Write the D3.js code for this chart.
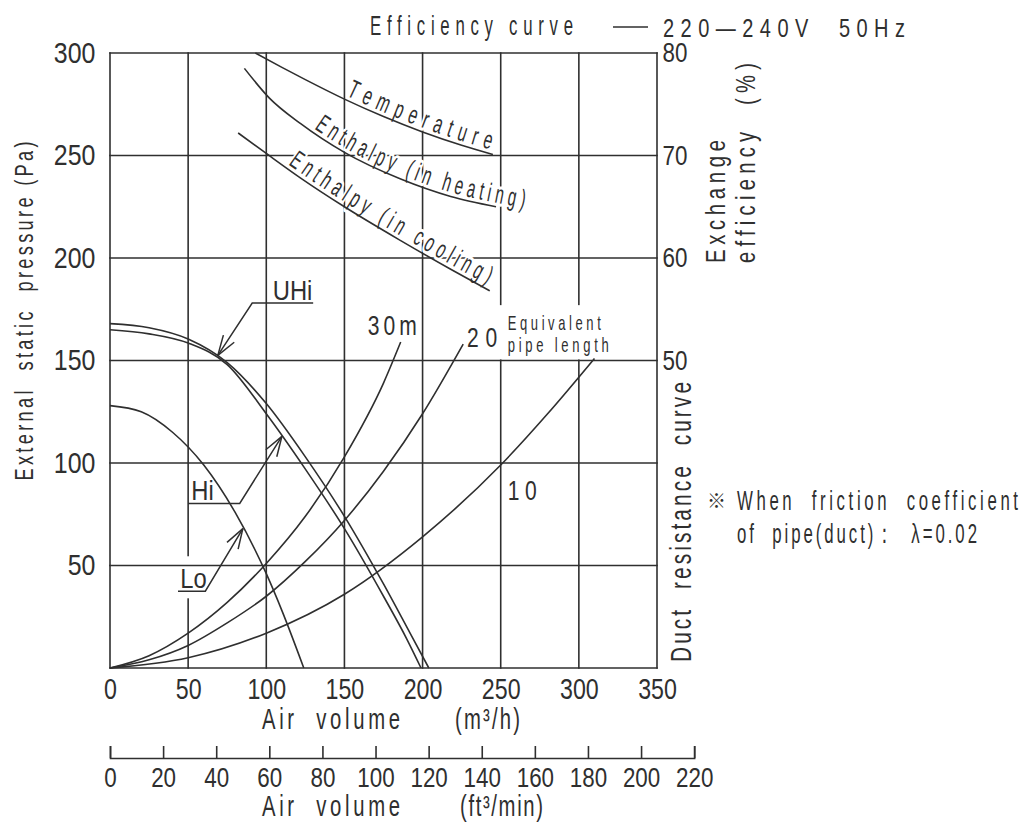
<!DOCTYPE html>
<html lang="en">
<head>
<meta charset="utf-8">
<title>Fan characteristics – air volume vs. static pressure</title>
<script src="https://cdn.jsdelivr.net/npm/d3@7/dist/d3.min.js"></script>
<style>
  html, body { margin: 0; padding: 0; background: #fff; }
  svg { display: block; }
</style>
</head>
<body>
<svg id="chart" width="1024" height="825"></svg>
<script>
// ---------- tick values ----------
const flowTicks = [0, 50, 100, 150, 200, 250, 300, 350];          // m³/h
const pressureTicks = [50, 100, 150, 200, 250, 300];              // Pa
const efficiencyTicks = [50, 60, 70, 80];                         // %
const cfmTicks = [0, 20, 40, 60, 80, 100, 120, 140, 160, 180, 200, 220]; // ft³/min

// ---------- fan curves: [air volume m³/h, external static pressure Pa] ----------
const fanUHi = [[0, 168], [25, 166], [50, 160.5], [75, 149], [100, 129], [125, 103], [150, 74], [175, 41], [192, 17], [204, 0]];
const fanHi  = [[0, 165], [25, 163], [50, 158.5], [75, 148], [100, 124], [125, 97], [150, 68], [175, 35], [190, 14], [199, 0]];
const fanLo  = [[0, 128], [20, 125], [40, 115], [60, 99], [80, 76], [100, 46], [110, 28], [124, 0]];

// ---------- duct resistance curves (equivalent pipe length) ----------
const duct30 = [[0, 0], [25, 6], [50, 17], [75, 32], [100, 51], [125, 74], [150, 103], [175, 139], [186, 159]];
const duct20 = [[0, 0], [25, 4], [50, 11], [75, 22], [100, 35], [125, 52], [150, 72], [175, 96], [200, 124], [226, 158]];
const duct10 = [[0, 0], [50, 5], [100, 17], [150, 36], [200, 64], [250, 99], [280, 124], [310, 151]];

// ---------- exchange efficiency: [air volume m³/h, efficiency %] ----------
const effTemperature = [[93, 80], [110, 78.6], [125, 77.4], [150, 75.5], [175, 73.8], [200, 72.3], [225, 71], [245, 70.1]];
const effHeating     = [[86, 78.5], [102, 75.6], [122, 73.1], [150, 70.3], [186, 67.7], [218, 66], [247, 65]];
const effCooling     = [[82, 72.2], [100, 70.2], [122, 67.8], [150, 65], [186, 61.7], [218, 58.9], [243, 56.8]];

// ---------- drawing ----------
const INK = '#2f2f2f';
const SANS = "'Liberation Sans', Arimo, 'Noto Sans', sans-serif";
const CJK = "'Noto Sans CJK JP', 'Noto Sans CJK SC', sans-serif";

const svg = d3.select('#chart');
svg.append('rect').attr('width', 1024).attr('height', 825).attr('fill', '#fff');
const defs = svg.append('defs');

const x = d3.scaleLinear().domain([0, 350]).range([110, 657]);
const y = d3.scaleLinear().domain([0, 300]).range([668, 53]);
const yEff = d3.scaleLinear().domain([20, 80]).range([668, 53]);
const M3H_PER_CFM = 1.69901;
const xCfm = d3.scaleLinear().domain([0, 220]).range([x(0), x(220 * M3H_PER_CFM)]);

// layers in paint order
const gV = svg.append('g');
const gGap = svg.append('g');
const gH = svg.append('g');
const gLabels = svg.append('g');
const gCurves = svg.append('g');
const gNotes = svg.append('g');

// text helper: optional rotation, horizontal condensing and fitted length
function put(parent, str, o) {
  const sx = o.sx || 1;
  const t = parent.append('text')
    .attr('font-family', o.family || SANS)
    .attr('font-size', o.size)
    .attr('fill', INK)
    .attr('text-anchor', o.anchor || 'start')
    .attr('xml:space', 'preserve')
    .style('white-space', 'pre')
    .attr('transform', `translate(${o.x},${o.y}) rotate(${o.rot || 0}) scale(${sx},1)`)
    .text(str);
  if (o.width) t.attr('textLength', o.width / sx).attr('lengthAdjust', 'spacing');
  return t;
}

// grid
gV.selectAll('line').data(flowTicks).join('line')
  .attr('x1', d => x(d)).attr('x2', d => x(d))
  .attr('y1', y(0)).attr('y2', y(300))
  .attr('stroke', INK).attr('stroke-width', 1.6).attr('stroke-linecap', 'square');
// breaks in the vertical rules behind the annotations
gGap.append('rect').attr('x', x(250) - 3).attr('y', y(177)).attr('width', x(320) - x(250)).attr('height', y(150.5) - y(177)).attr('fill', '#fff');
gGap.append('rect').attr('x', x(50) - 4).attr('y', y(54.5)).attr('width', 8).attr('height', y(34) - y(54.5)).attr('fill', '#fff');
gH.selectAll('line').data([0, ...pressureTicks]).join('line')
  .attr('x1', x(0)).attr('x2', x(350))
  .attr('y1', d => y(d)).attr('y2', d => y(d))
  .attr('stroke', INK).attr('stroke-width', 1.6).attr('stroke-linecap', 'square');

function styleAxis(g, size, sx) {
  g.attr('font-family', SANS).attr('font-size', size).attr('color', INK);
  g.selectAll('text').attr('transform', `scale(${sx},1)`);
  g.selectAll('path, line').attr('stroke-width', 1.6);
}

// primary air-volume axis
const axB = svg.append('g').attr('transform', `translate(0,${y(0)})`)
  .call(d3.axisBottom(x).tickValues(flowTicks).tickSize(0).tickPadding(10));
axB.select('.domain').remove();
styleAxis(axB, 29, 0.8);

// secondary axis in ft³/min
const axC = svg.append('g').attr('transform', 'translate(0,758)')
  .call(d3.axisBottom(xCfm).tickValues(cfmTicks).tickSizeInner(-12).tickSizeOuter(-12).tickPadding(9));
styleAxis(axC, 28, 0.8);

// pressure axis
const axL = svg.append('g').attr('transform', `translate(${x(0)},0)`)
  .call(d3.axisLeft(y).tickValues(pressureTicks).tickSize(0).tickPadding(17));
axL.select('.domain').remove();
styleAxis(axL, 29, 0.86);

// efficiency axis
const axR = svg.append('g').attr('transform', `translate(${x(350)},0)`)
  .call(d3.axisRight(yEff).tickValues(efficiencyTicks).tickSize(0).tickPadding(7));
axR.select('.domain').remove();
styleAxis(axR, 28, 0.8);

// titles
put(svg, 'Efficiency curve', { x: 370, y: 35, size: 28, sx: 0.6, width: 203 });
svg.append('line').attr('x1', 613).attr('x2', 648).attr('y1', 27).attr('y2', 27).attr('stroke', INK).attr('stroke-width', 1.5);
put(svg, '220—240V  50Hz', { x: 663, y: 37, size: 25, sx: 0.8, width: 242 });

put(svg, 'External  static  pressure (Pa)', { x: 33, y: 311, rot: -90, size: 26, sx: 0.7, width: 339, anchor: 'middle' });
put(svg, 'Exchange', { x: 725, y: 263, rot: -90, size: 27, sx: 0.75, width: 123 });
put(svg, 'efficiency  (%)', { x: 755, y: 263, rot: -90, size: 27, sx: 0.75, width: 200 });
put(svg, 'Duct  resistance  curve', { x: 691, y: 662, rot: -90, size: 29, sx: 0.72, width: 280 });

put(svg, '※', { x: 707, y: 508, size: 19, family: CJK });
put(svg, 'When  friction  coefficient', { x: 737, y: 510, size: 28, sx: 0.6, width: 281 });
put(svg, 'of  pipe(duct)：  λ=0.02', { x: 737, y: 543, size: 28, sx: 0.6, width: 240 });

put(svg, 'Air  volume', { x: 262, y: 729, size: 29, sx: 0.7, width: 138 });
put(svg, '(m³/h)', { x: 455, y: 729, size: 29, sx: 0.7, width: 65 });
put(svg, 'Air  volume', { x: 262, y: 816, size: 29, sx: 0.7, width: 138 });
put(svg, '(ft³/min)', { x: 460, y: 816, size: 29, sx: 0.7, width: 83 });

// curves
const pLine = d3.line().x(d => x(d[0])).y(d => y(d[1])).curve(d3.curveMonotoneX);
const eLine = d3.line().x(d => x(d[0])).y(d => yEff(d[1])).curve(d3.curveMonotoneX);
const series = [
  ['uhi', fanUHi, pLine], ['hi', fanHi, pLine], ['lo', fanLo, pLine],
  ['d30', duct30, pLine], ['d20', duct20, pLine], ['d10', duct10, pLine],
  ['temp', effTemperature, eLine], ['heat', effHeating, eLine], ['cool', effCooling, eLine]
];
const paths = {};
series.forEach(([id, data, gen]) => {
  paths[id] = gCurves.append('path').attr('d', gen(data))
    .attr('fill', 'none').attr('stroke', INK).attr('stroke-width', 1.6).node();
});

// labels that follow the efficiency curves, set glyph by glyph
function lengthAtX(node, tx) {
  let lo = 0, hi = node.getTotalLength();
  for (let i = 0; i < 40; i++) {
    const m = (lo + hi) / 2;
    if (node.getPointAtLength(m).x < tx) lo = m; else hi = m;
  }
  return lo;
}
function buildGuide(id, node, lift, extend) {
  const total = node.getTotalLength(), n = 120, pts = [];
  for (let i = 0; i <= n; i++) { const p = node.getPointAtLength(total * i / n); pts.push([p.x, p.y]); }
  if (extend) {
    const a = pts[n - 1], b = pts[n], m = Math.hypot(b[0] - a[0], b[1] - a[1]);
    for (let k = 1; k <= 4; k++) pts.push([b[0] + (b[0] - a[0]) / m * extend * k / 4, b[1] + (b[1] - a[1]) / m * extend * k / 4]);
  }
  const off = pts.map((p, i) => {
    const a = pts[Math.max(0, i - 1)], b = pts[Math.min(pts.length - 1, i + 1)];
    const dx = b[0] - a[0], dy = b[1] - a[1], m = Math.hypot(dx, dy) || 1;
    return [p[0] + dy / m * lift, p[1] - dx / m * lift];
  });
  return defs.append('path').attr('id', id).attr('d', d3.line()(off)).node();
}
function curveLabel(node, str, x0, x1, size, sx) {
  const total = node.getTotalLength();
  const s = lengthAtX(node, x0), e = lengthAtX(node, x1);
  const chars = Array.from(str);
  const probe = svg.append('text').attr('font-family', SANS).attr('font-size', size)
    .attr('xml:space', 'preserve').style('white-space', 'pre');
  const w = chars.map(c => { probe.text(c); return probe.node().getComputedTextLength() * sx; });
  probe.remove();
  const gap = (e - s - d3.sum(w)) / (chars.length - 1);
  let pos = s;
  chars.forEach((c, i) => {
    const mid = pos + w[i] / 2;
    const p = node.getPointAtLength(mid);
    const p1 = node.getPointAtLength(Math.max(0, mid - 2));
    const p2 = node.getPointAtLength(Math.min(total, mid + 2));
    const ang = Math.atan2(p2.y - p1.y, p2.x - p1.x) * 180 / Math.PI;
    if (c.trim()) {
      gLabels.append('text')
        .attr('font-family', SANS).attr('font-size', size).attr('fill', INK)
        .attr('text-anchor', 'middle')
        .attr('stroke', '#fff').attr('stroke-width', 6).attr('stroke-linejoin', 'round')
        .attr('paint-order', 'stroke')
        .attr('transform', `translate(${p.x},${p.y}) rotate(${ang}) scale(${sx},1)`)
        .text(c);
    }
    pos += w[i] + gap;
  });
}
curveLabel(buildGuide('g-temp', paths.temp, 4, 0), 'Temperature', 346, 490, 26, 0.6);
curveLabel(buildGuide('g-heat', paths.heat, 4, 60), 'Enthalpy (in heating)', 314, 524, 26, 0.58);
curveLabel(buildGuide('g-cool', paths.cool, 4, 0), 'Enthalpy (in cooling)', 288, 487, 26, 0.58);

// duct length labels
put(gLabels, '30m', { x: x(165), y: y(162.5), size: 27, sx: 0.78, width: 49 });
put(gLabels, '20', { x: x(228.5), y: y(156.5), size: 27, sx: 0.78, width: 30 });
put(gLabels, '10', { x: x(254.5), y: y(82), size: 27, sx: 0.78, width: 29 });
put(gLabels, 'Equivalent', { x: x(254.5), y: y(165), size: 21, sx: 0.62, width: 93 });
put(gLabels, 'pipe length', { x: x(254.5), y: y(154.3), size: 21, sx: 0.62, width: 101 });

// fan-speed callouts with open arrowheads
function arrowhead(tip, from) {
  const a = Math.atan2(from[1] - tip[1], from[0] - tip[0]);
  [-1, 1].forEach(s => {
    const b = a + s * 18 * Math.PI / 180;
    gNotes.append('line')
      .attr('x1', tip[0]).attr('y1', tip[1])
      .attr('x2', tip[0] + 21 * Math.cos(b)).attr('y2', tip[1] + 21 * Math.sin(b))
      .attr('stroke', INK).attr('stroke-width', 1.5);
  });
}
function callout(name, pts, textX, anchor) {
  const px = pts.map(d => [x(d[0]), y(d[1])]);
  gNotes.append('path').attr('d', d3.line()(px)).attr('fill', 'none').attr('stroke', INK).attr('stroke-width', 1.5);
  arrowhead(px[px.length - 1], px[px.length - 2]);
  put(gNotes, name, { x: x(textX), y: px[0][1] - 3, size: 28, sx: 0.85, anchor });
}
callout('UHi', [[130, 178], [91, 178], [69, 152.5]], 129.5, 'end');
callout('Hi', [[50, 80.3], [83, 80.3], [110, 113]], 52, 'start');
callout('Lo', [[43.5, 37.5], [61, 37.5], [85, 68]], 45, 'start');
</script>
</body>
</html>
